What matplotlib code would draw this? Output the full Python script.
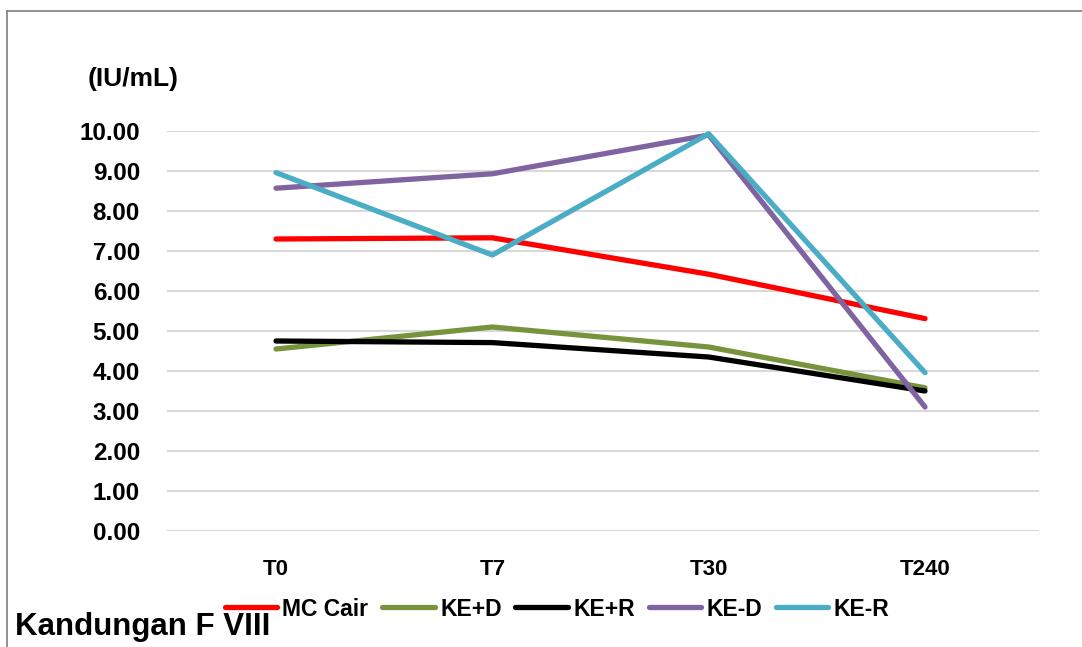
import matplotlib
matplotlib.use("Agg")
import matplotlib.pyplot as plt
from matplotlib.lines import Line2D

plt.rcParams['font.family'] = ['Liberation Sans', 'DejaVu Sans']
plt.rcParams['font.weight'] = 'bold'

categories = ["T0", "T7", "T30", "T240"]
mc_cair = [7.30, 7.33, 6.42, 5.31]
ke_plus_d = [4.55, 5.10, 4.60, 3.58]
ke_plus_r = [4.75, 4.71, 4.35, 3.50]
ke_min_d = [8.57, 8.93, 9.90, 3.10]
ke_min_r = [8.96, 6.90, 9.93, 3.96]

series = [
    ("MC Cair", mc_cair, "#FF0000"),
    ("KE+D", ke_plus_d, "#77933C"),
    ("KE+R", ke_plus_r, "#000000"),
    ("KE-D", ke_min_d, "#8064A2"),
    ("KE-R", ke_min_r, "#4BACC6"),
]

W, H = 1082, 647
fig = plt.figure(figsize=(W / 100, H / 100), dpi=100)
# axes box in pixels: x 167..1039, y 131..531
ax = fig.add_axes([167 / W, 1 - 531 / H, (1039 - 167) / W, (531 - 131) / H])

x = list(range(len(categories)))
for name, vals, col in series:
    ax.plot(x, vals, color=col, lw=3.8, label=name, solid_capstyle='round',
            solid_joinstyle='round', clip_on=False, zorder=3)

ax.set_ylim(0, 10)
ax.set_xlim(-0.504, 3.527)
ax.set_yticks(range(0, 11))
ax.set_yticklabels([f"{v:.2f}" for v in range(0, 11)], fontsize=17.5, fontweight='bold')
ax.set_xticks(x)
ax.set_xticklabels(categories, fontsize=16, fontweight='bold')
ax.tick_params(axis='y', length=0, pad=19.5)
ax.tick_params(axis='x', length=0, pad=20)
ax.grid(axis='y', color='#D9D9D9', lw=1.5, zorder=0)
for s in ax.spines.values():
    s.set_visible(False)

fig.text(88 / W, 1 - 79 / H, "(IU/mL)", fontsize=19, fontweight='bold', va='center', ha='left')
fig.text(15 / W, 1 - 627 / H, "Kandungan F VIII", fontsize=22.5, fontweight='bold', va='center', ha='left')

fig.legend(loc='center', bbox_to_anchor=(557 / W, 1 - 609 / H), ncol=5, frameon=False,
           fontsize=16.5, handlelength=2.3, handletextpad=0.22, columnspacing=0.6)

# outer frame (left and top edges)
fig.add_artist(Line2D([7 / W, 7 / W], [0, 1 - 11 / H], color='#7F7F7F', lw=1.2))
fig.add_artist(Line2D([7 / W, 1], [1 - 11 / H, 1 - 11 / H], color='#7F7F7F', lw=1.2))

fig.savefig("out.png", dpi=100)
